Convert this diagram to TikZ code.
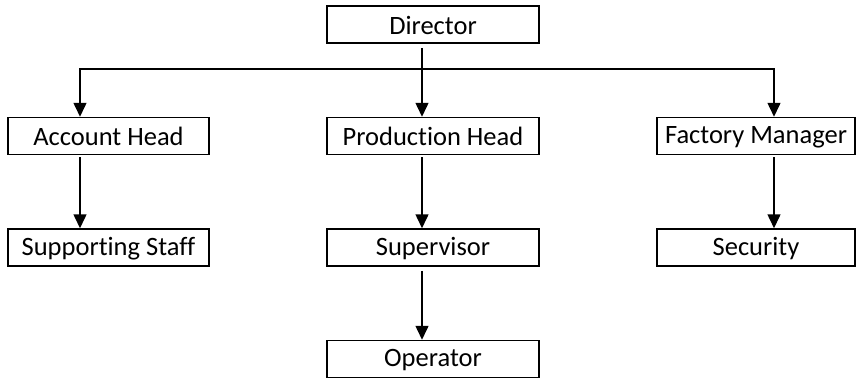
\documentclass[tikz,border=0pt]{standalone}
\usepackage{fontspec}
\setmainfont{Carlito}[Ligatures=NoCommon]
\usetikzlibrary{arrows.meta}
\begin{document}
\begin{tikzpicture}[x=1pt,y=-1pt,
  box/.style={draw, line width=1.5pt, inner sep=0pt, minimum height=37pt,
    text height=20pt, font=\fontsize{26.5}{26.5}\selectfont},
  colL/.style={box, minimum width=201pt},
  colM/.style={box, minimum width=212pt},
  colR/.style={box, minimum width=198pt},
  link/.style={line width=1.5pt, -{Triangle[length=14pt,width=13pt]}}]
\useasboundingbox (0,0) rectangle (856,381);

% boxes
\node[colM] (dir)  at (433,24.5) {Director};
\node[colL] (acc)  at (108.5,136) {Account Head};
\node[colM] (prod) at (433,136) {Production Head};
\node[colR] (fac)  at (756,136) {Factory Manager};
\node[colL] (sup)  at (108.5,247.5) {Supporting Staff};
\node[colM] (svr)  at (433,247.5) {Supervisor};
\node[colR] (sec)  at (756,247.5) {Security};
\node[colM] (op)   at (433,359) {Operator};

% vertical lines of the chart
\coordinate (busM) at (422,69);
\coordinate (busL) at (80,69);
\coordinate (busR) at (774,69);

% director to the three heads
\draw[link] ([yshift=-4pt]dir.south -| busM) -- (prod.north -| busM);
\draw[link] (busM) -| (acc.north -| busL);
\draw[link] (busM) -| (fac.north -| busR);

% heads to their staff
\draw[link] ([yshift=-2pt]acc.south -| busL) -- (sup.north -| busL);
\draw[link] ([yshift=-2pt]prod.south -| busM) -- (svr.north -| busM);
\draw[link] ([yshift=-2pt]fac.south -| busR) -- (sec.north -| busR);
\draw[link] ([yshift=-4pt]svr.south -| busM) -- (op.north -| busM);
\end{tikzpicture}
\end{document}
